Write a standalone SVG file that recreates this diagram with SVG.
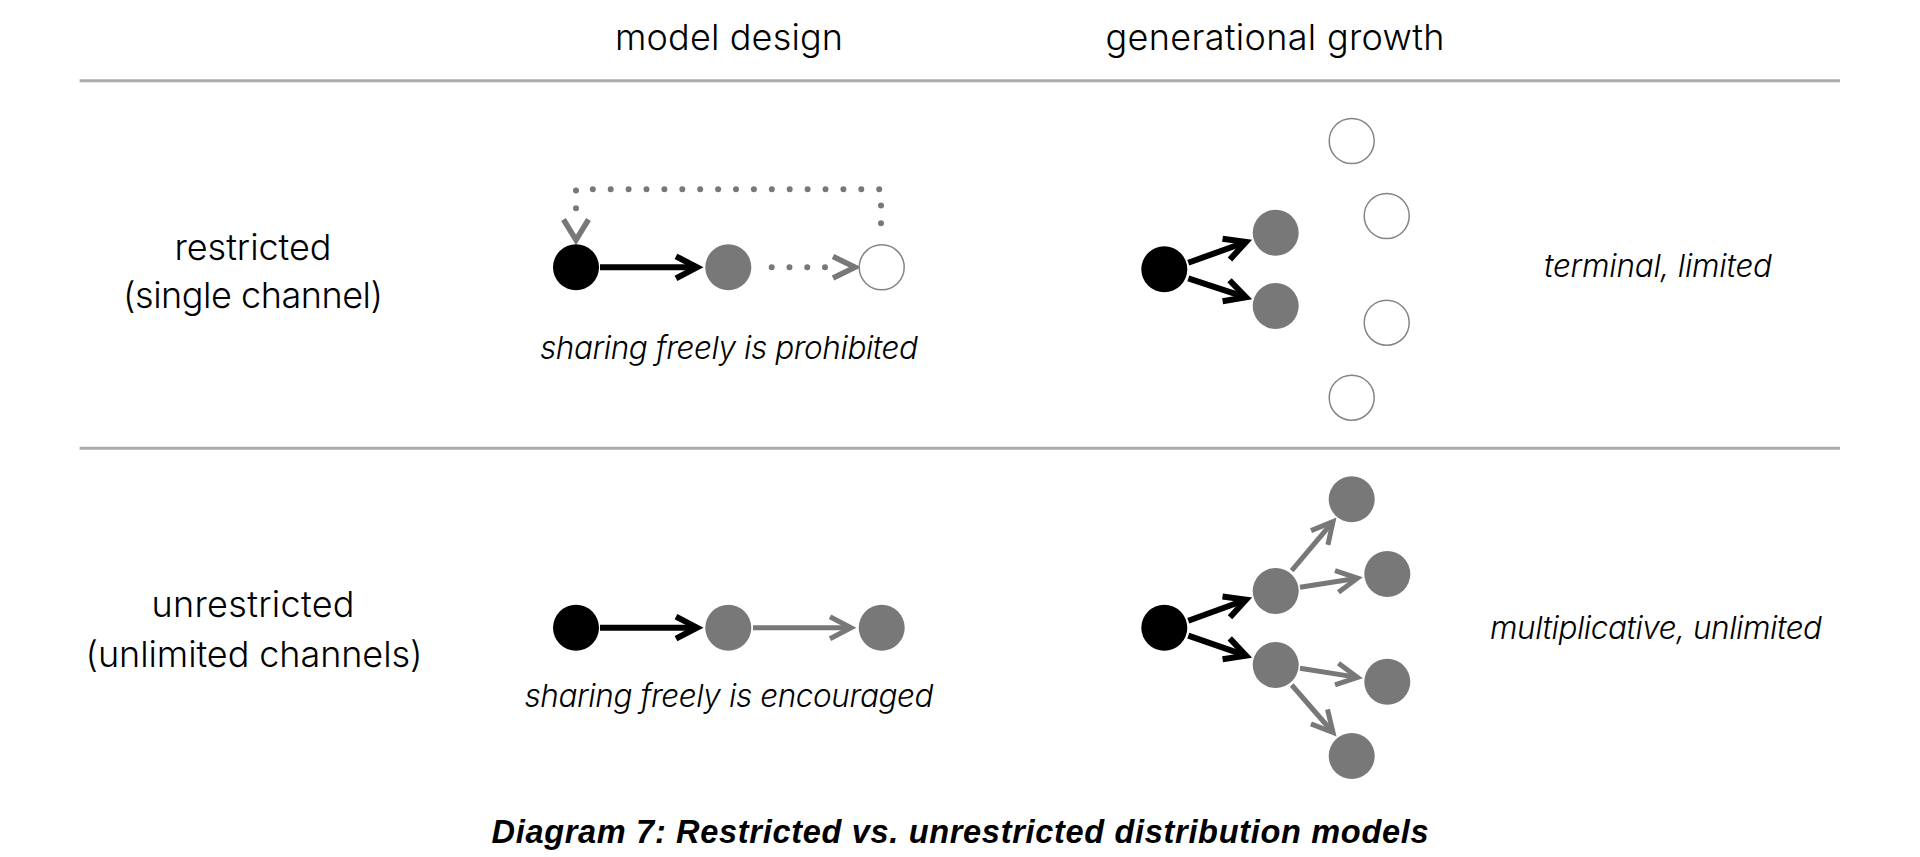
<svg xmlns="http://www.w3.org/2000/svg" width="1920" height="857" viewBox="0 0 1920 857">
<style>
  .lbl { font-family: Inter, "Liberation Sans", Arial, sans-serif; font-weight: 300; font-size: 36px; fill: #000; text-anchor: middle; }
  .it { font-family: Inter, "Liberation Sans", Arial, sans-serif; font-weight: 300; font-style: italic; font-size: 31.5px; fill: #000; text-anchor: middle; }
  .title { font-family: "Liberation Sans", Arial, sans-serif; font-weight: bold; font-style: italic; font-size: 32.5px; fill: #000; text-anchor: middle; }
  .rule { stroke: #ababab; stroke-width: 3; fill: none; }
  .nb { fill: #000; }
  .ng { fill: #787878; }
  .nh { fill: #fff; stroke: #858585; stroke-width: 1.5; }
  .cb { stroke: #000; stroke-width: 6; fill: none; }
  .cg { stroke: #787878; stroke-width: 5; fill: none; }
  .dot { stroke: #787878; stroke-width: 6; stroke-linecap: round; fill: none; }
  .chev { stroke: #787878; stroke-width: 5.5; fill: none; stroke-linejoin: miter; }
</style>
<defs>
  <marker id="ab" markerUnits="userSpaceOnUse" viewBox="-30 -15 40 30" markerWidth="40" markerHeight="30" refX="0" refY="0" orient="auto" overflow="visible">
    <path d="M-21,-11 L0,0 L-21,11" fill="none" stroke="#000" stroke-width="6" stroke-linejoin="miter"/>
  </marker>
  <marker id="ag" markerUnits="userSpaceOnUse" viewBox="-30 -15 40 30" markerWidth="40" markerHeight="30" refX="0" refY="0" orient="auto" overflow="visible">
    <path d="M-21,-11 L0,0 L-21,11" fill="none" stroke="#787878" stroke-width="5" stroke-linejoin="miter"/>
  </marker>
</defs>
<rect x="0" y="0" width="1920" height="857" fill="#fff"/>

<g id="headers">
  <text class="lbl" x="729" y="50" textLength="228" lengthAdjust="spacing">model design</text>
  <text class="lbl" x="1275" y="50" textLength="339" lengthAdjust="spacing">generational growth</text>
</g>
<g id="rules">
  <line class="rule" x1="79.6" y1="80.8" x2="1840" y2="80.8"/>
  <line class="rule" x1="79.6" y1="448.3" x2="1840" y2="448.3"/>
</g>
<g id="row-labels">
  <text class="lbl" x="253" y="260" textLength="157" lengthAdjust="spacing">restricted</text>
  <text class="lbl" x="253" y="308" textLength="260" lengthAdjust="spacing">(single channel)</text>
  <text class="lbl" x="253" y="617" textLength="203" lengthAdjust="spacing">unrestricted</text>
  <text class="lbl" x="254" y="667" textLength="337" lengthAdjust="spacing">(unlimited channels)</text>
</g>
<g id="captions">
  <text class="it" x="729" y="358.5" textLength="378" lengthAdjust="spacing">sharing freely is prohibited</text>
  <text class="it" x="729" y="707" textLength="409" lengthAdjust="spacing">sharing freely is encouraged</text>
  <text class="it" x="1658" y="277" textLength="228" lengthAdjust="spacing">terminal, limited</text>
  <text class="it" x="1656" y="639" textLength="332" lengthAdjust="spacing">multiplicative, unlimited</text>
</g>

<g id="connectors">
  <!-- restricted model design -->
  <line class="cb" x1="600" y1="267.3" x2="697" y2="267.3" marker-end="url(#ab)"/>
  <line class="dot" x1="771.7" y1="267.3" x2="826" y2="267.3" stroke-dasharray="0 17.77"/>
  <path class="chev" d="M833,256.5 L855,267.3 L833,278"/>
  <path class="dot" d="M881,223.3 L881,189.3 L576,189.3 L576,208.3" stroke-dasharray="0 17.9"/>
  <path class="chev" d="M563.5,219.5 L576,240 L588.5,219.5"/>
  <!-- unrestricted model design -->
  <line class="cb" x1="600" y1="627.7" x2="697" y2="627.7" marker-end="url(#ab)"/>
  <line class="cg" x1="753" y1="627.7" x2="851" y2="627.7" marker-end="url(#ag)"/>
  <!-- restricted growth -->
  <line class="cb" x1="1188.3" y1="262.7" x2="1246" y2="242" marker-end="url(#ab)"/>
  <line class="cb" x1="1188.3" y1="278.3" x2="1246" y2="297.3" marker-end="url(#ab)"/>
  <!-- unrestricted growth -->
  <line class="cb" x1="1188.3" y1="620.7" x2="1246" y2="599.7" marker-end="url(#ab)"/>
  <line class="cb" x1="1188.3" y1="635.7" x2="1246" y2="655.7" marker-end="url(#ab)"/>
  <line class="cg" x1="1291.7" y1="570.7" x2="1333" y2="521.7" marker-end="url(#ag)"/>
  <line class="cg" x1="1300" y1="587.3" x2="1357.5" y2="578.2" marker-end="url(#ag)"/>
  <line class="cg" x1="1300" y1="668.3" x2="1357.5" y2="677.4" marker-end="url(#ag)"/>
  <line class="cg" x1="1291.7" y1="685" x2="1333" y2="732.5" marker-end="url(#ag)"/>
</g>

<g id="n-r-src"><circle class="nb" cx="576" cy="267.3" r="23"/></g>
<g id="n-r-mid"><circle class="ng" cx="728.3" cy="267.3" r="23"/></g>
<g id="n-r-end"><circle class="nh" cx="881.7" cy="267.3" r="22.5"/></g>

<g id="n-u-src"><circle class="nb" cx="576" cy="627.7" r="23"/></g>
<g id="n-u-mid"><circle class="ng" cx="728.3" cy="627.7" r="23"/></g>
<g id="n-u-end"><circle class="ng" cx="881.7" cy="627.7" r="23"/></g>

<g id="n-rg-src"><circle class="nb" cx="1164.3" cy="269.3" r="23"/></g>
<g id="n-rg-a"><circle class="ng" cx="1275.7" cy="232.7" r="23"/></g>
<g id="n-rg-b"><circle class="ng" cx="1275.7" cy="306" r="23"/></g>
<g id="n-rg-1"><circle class="nh" cx="1351.7" cy="141" r="22.5"/></g>
<g id="n-rg-2"><circle class="nh" cx="1386.7" cy="216" r="22.5"/></g>
<g id="n-rg-3"><circle class="nh" cx="1386.7" cy="322.7" r="22.5"/></g>
<g id="n-rg-4"><circle class="nh" cx="1351.7" cy="397.7" r="22.5"/></g>

<g id="n-ug-src"><circle class="nb" cx="1164.3" cy="627.7" r="23"/></g>
<g id="n-ug-a"><circle class="ng" cx="1275.7" cy="591" r="23"/></g>
<g id="n-ug-b"><circle class="ng" cx="1275.7" cy="665" r="23"/></g>
<g id="n-ug-1"><circle class="ng" cx="1351.7" cy="499.3" r="23"/></g>
<g id="n-ug-2"><circle class="ng" cx="1387.3" cy="574" r="23"/></g>
<g id="n-ug-3"><circle class="ng" cx="1387.3" cy="681.7" r="23"/></g>
<g id="n-ug-4"><circle class="ng" cx="1351.7" cy="756" r="23"/></g>

<g id="title">
  <text class="title" x="960" y="843" textLength="937" lengthAdjust="spacing">Diagram 7: Restricted vs. unrestricted distribution models</text>
</g>
</svg>
